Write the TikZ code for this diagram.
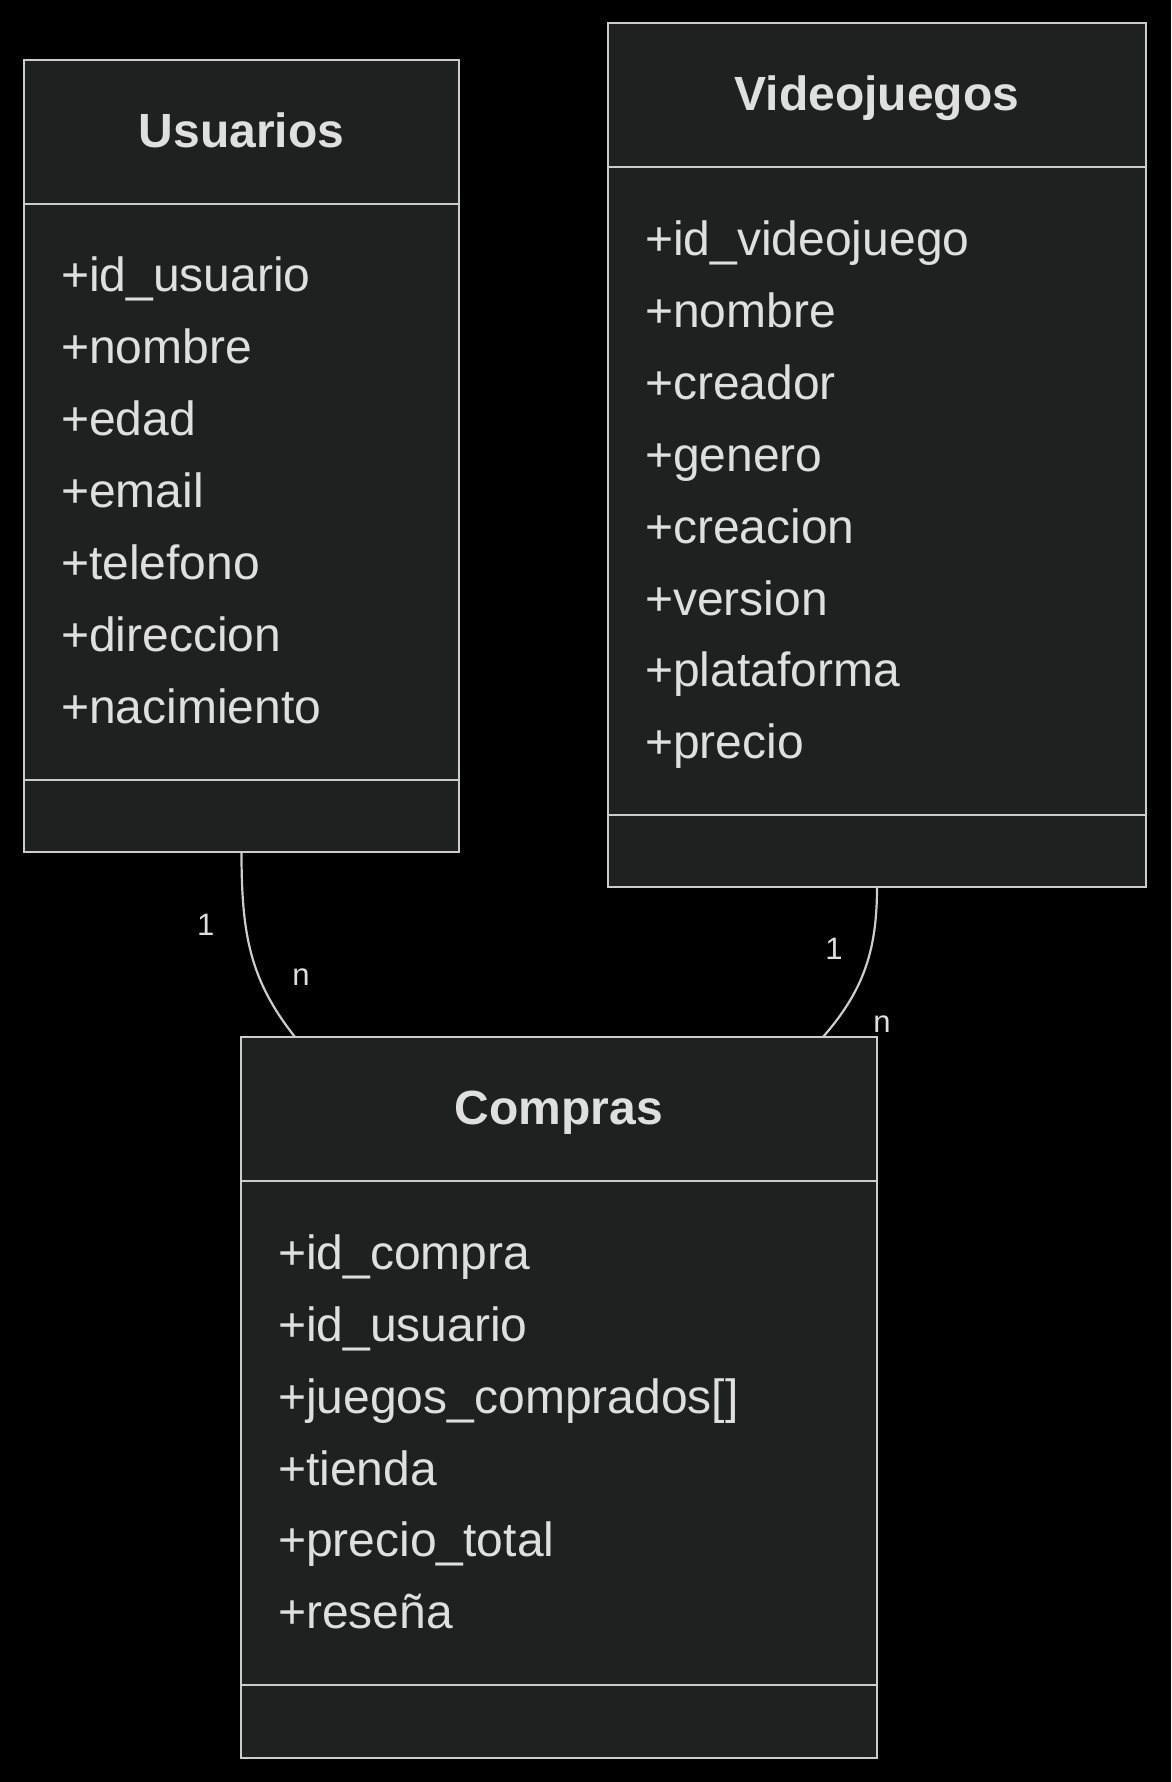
\documentclass[tikz,border=0pt]{standalone}
\usepackage{fontspec}
\setmainfont{Liberation Sans}
\definecolor{bgcol}{HTML}{000000}
\definecolor{boxfill}{HTML}{1F2020}
\definecolor{boxline}{HTML}{CCCCCC}
\definecolor{txt}{HTML}{E0DFDF}
\tikzset{
  classbox/.style={draw=boxline, fill=boxfill, line width=2.4pt, inner sep=0pt, outer sep=0pt, anchor=north west},
  divider/.style={draw=boxline, line width=2.4pt},
  classtitle/.style={font=\fontsize{48}{58}\selectfont\bfseries, text=txt, anchor=base, inner sep=0pt},
  attr/.style={font=\fontsize{48}{58}\selectfont, text=txt, anchor=base west, inner sep=0pt},
  card/.style={font=\fontsize{31}{37}\selectfont, text=txt, anchor=base, inner sep=0pt},
  rel/.style={draw=boxline, line width=2.2pt}
}
\begin{document}
\begin{tikzpicture}[x=1pt,y=-1pt]
\fill[bgcol] (0,0) rectangle (1171,1782);
\useasboundingbox (0,0) rectangle (1171,1782);

% Usuarios
\node[classbox, minimum width=435, minimum height=792] (usuarios) at (24,60) {};
\draw[divider] (24,204) -- (459,204);
\draw[divider] (24,780) -- (459,780);
\node[classtitle] (usuarios-t) at (241.5,147.3) {Usuarios};
\foreach \t [count=\i from 0] in {{+id\_usuario},{+nombre},{+edad},{+email},{+telefono},{+direccion},{+nacimiento}}
  \node[attr] (u\i) at (61,291.7+71.9*\i) {\t};

% Videojuegos
\node[classbox, minimum width=538, minimum height=864] (videojuegos) at (608,23) {};
\draw[divider] (608,167) -- (1146,167);
\draw[divider] (608,815) -- (1146,815);
\node[classtitle] (videojuegos-t) at (877,111) {Videojuegos};
\foreach \t [count=\i from 0] in {{+id\_videojuego},{+nombre},{+creador},{+genero},{+creacion},{+version},{+plataforma},{+precio}}
  \node[attr] (v\i) at (645,255.5+71.9*\i) {\t};

% Compras
\node[classbox, minimum width=636, minimum height=721] (compras) at (241,1037) {};
\draw[divider] (241,1181) -- (877,1181);
\draw[divider] (241,1685) -- (877,1685);
\node[classtitle] (compras-t) at (559,1124.5) {Compras};
\foreach \t [count=\i from 0] in {{+id\_compra},{+id\_usuario},{+juegos\_comprados[]},{+tienda},{+precio\_total},{+reseña}}
  \node[attr] (c\i) at (278,1269.3+71.9*\i) {\t};

% Relations
\coordinate (cu) at (295,1037);
\coordinate (cv) at (823,1037);
\draw[rel] (usuarios.south) .. controls (241.5,935) and (250,980) .. (cu);
\draw[rel] (videojuegos.south) .. controls (877,950) and (864,990) .. (cv);
\node[card] (l1a) at (205.7,935) {1};
\node[card] (l1b) at (301,985) {n};
\node[card] (l2a) at (834,959) {1};
\node[card] (l2b) at (882,1032.7) {n};
\end{tikzpicture}
\end{document}
